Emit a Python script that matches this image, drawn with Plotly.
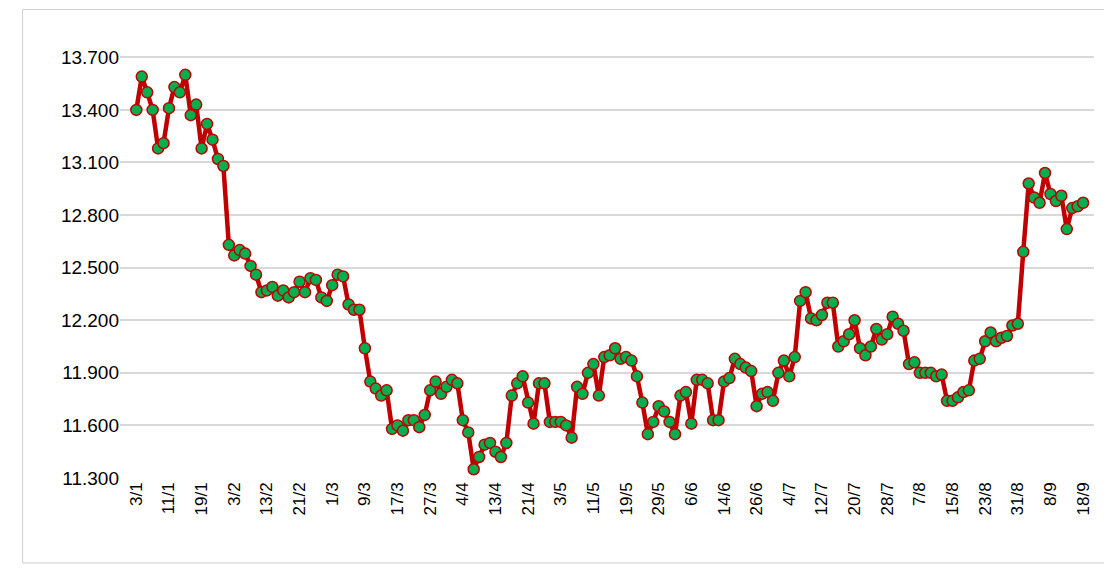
import plotly.graph_objects as go

values = [
13.40,13.59,13.50,13.40,13.18,13.21,13.41,13.53,13.50,13.60,13.37,13.43,13.18,13.32,13.23,13.12,13.08,
12.63,12.57,12.60,12.58,12.51,12.46,12.36,12.37,12.39,12.34,12.37,12.33,12.36,12.42,12.36,12.44,12.43,
12.33,12.31,12.40,12.46,12.45,12.29,12.26,12.26,12.04,
11.85,11.81,11.77,11.80,11.58,11.60,11.57,11.63,11.63,11.59,11.66,11.80,11.85,11.78,11.82,11.86,11.84,
11.63,11.56,11.35,11.42,11.49,11.50,11.45,11.42,11.50,11.77,11.84,11.88,11.73,11.61,11.84,11.84,11.62,
11.62,11.62,11.60,11.53,11.82,11.78,11.90,11.95,11.77,11.99,12.00,12.04,11.98,11.99,11.97,11.88,11.73,11.55,
11.62,11.71,11.68,11.62,11.55,11.77,11.79,11.61,11.86,11.86,11.84,11.63,11.63,11.85,11.87,11.98,11.95,
11.93,11.91,11.71,11.78,11.79,11.74,11.90,11.97,11.88,11.99,12.31,12.36,12.21,12.20,12.23,12.30,12.30,
12.05,12.08,12.12,12.20,12.04,12.00,12.05,12.15,12.09,12.12,12.22,12.18,12.14,11.95,
11.96,11.90,11.90,11.90,11.88,11.89,11.74,11.74,11.76,11.79,11.80,11.97,11.98,12.08,12.13,12.08,12.10,
12.11,12.17,12.18,12.59,12.98,12.90,12.87,13.04,12.92,12.88,12.91,12.72,12.84,12.85,12.87]

tick_labels = ["3/1","11/1","19/1","3/2","13/2","21/2","1/3","9/3","17/3","27/3","4/4","13/4","21/4",
"3/5","11/5","19/5","29/5","6/6","14/6","26/6","4/7","12/7","20/7","28/7","7/8","15/8","23/8","31/8","8/9","18/9"]
y_ticks = [11.3,11.6,11.9,12.2,12.5,12.8,13.1,13.4,13.7]

x = list(range(len(values)))
step = 6
tickvals = [i*step for i in range(len(tick_labels))]

fig = go.Figure(go.Scatter(
    x=x, y=values, mode="lines+markers",
    line=dict(color="#C00000", width=4.5),
    marker=dict(color="#00B050", size=11, line=dict(color="#C00000", width=1.5)),
))
fig.update_layout(
    width=1100, height=556, autosize=False,
    paper_bgcolor="white", plot_bgcolor="white",
    margin=dict(l=112, r=14, t=23, b=86),
    showlegend=False,
    font=dict(family="Liberation Sans, Arial", color="#000"),
    xaxis=dict(range=[-3, len(values)+1], tickvals=tickvals, ticktext=tick_labels,
               tickangle=-90, tickfont=dict(size=17), showgrid=False, zeroline=False,
               showline=False, ticks=""),
    yaxis=dict(range=[11.3, 13.85], tickvals=y_ticks,
               ticktext=[f"{v:.3f}" for v in y_ticks], tickfont=dict(size=19),
               gridcolor="#D9D9D9", gridwidth=1.5, zeroline=False, showline=False),
    shapes=[dict(type="rect", xref="paper", yref="paper", x0=-0.1, x1=1.011, y0=-0.19, y1=1.048,
                 line=dict(color="#D0D0D0", width=1))],
)
fig.write_html("out.html")
